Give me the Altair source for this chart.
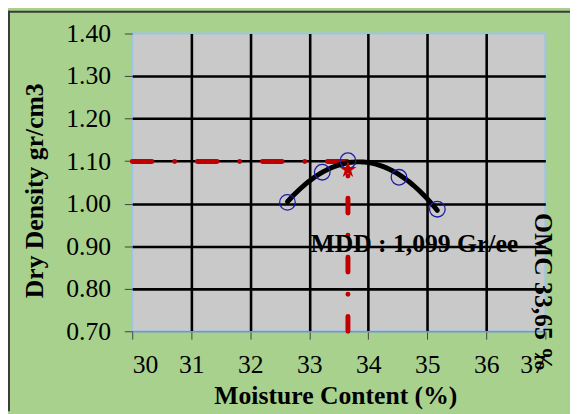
import altair as alt
import pandas as pd

# ---- data ----
moisture = [32.63, 33.22, 33.655, 34.52, 35.17]
density = [1.003, 1.074, 1.101, 1.062, 0.987]
omc = 33.655
mdd = 1.099
star_y = 1.08
x_ticks = [30, 31, 32, 33, 34, 35, 36, 37]
y_ticks = [0.70, 0.80, 0.90, 1.00, 1.10, 1.20, 1.30, 1.40]
mdd_label = "MDD : 1,099 Gr/ee"
omc_label = "OMC 33,65 %"
mdd_label_pos = (33.02, 0.886)
omc_label_pos = (36.817, 0.978)

FONT = "Liberation Serif"
RED = "#c00000"

pts = pd.DataFrame({"x": moisture, "y": density})

xs = alt.Scale(domain=[30, 37], nice=False, zero=False)
ys = alt.Scale(domain=[0.70, 1.40], nice=False, zero=False)

grid_x = {"condition": {"test": "datum.value <= 30 || datum.value >= 37", "value": "transparent"}, "value": "black"}
grid_y = {"condition": {"test": "datum.value <= 0.70001 || datum.value >= 1.39999", "value": "transparent"}, "value": "black"}

x_axis = alt.Axis(values=x_ticks, format="d", title="Moisture Content (%)",
                  grid=True, gridColor=grid_x, gridWidth=2.6,
                  tickSize=8, tickColor="#404040", labelPadding=13,
                  domain=True, domainColor="#8096b0", domainWidth=1.5,
                  titleX=206, titleY=73, titleBaseline="alphabetic", titleAlign="center")
y_axis = alt.Axis(values=y_ticks, format=".2f", title="Dry Density gr/cm3",
                  grid=True, gridColor=grid_y, gridWidth=2.6,
                  tickSize=8, tickColor="#404040", labelPadding=14,
                  domain=False,
                  titleX=-91, titleY=159, titleBaseline="alphabetic", titleAlign="center", titleAngle=-90)

base = alt.Chart(pts)

axes_layer = base.mark_point(opacity=0).encode(
    x=alt.X("x:Q", scale=xs, axis=x_axis),
    y=alt.Y("y:Q", scale=ys, axis=y_axis),
)

hline = alt.Chart(pd.DataFrame({"x": [30], "x2": [omc], "y": [mdd]})).mark_rule(
    color=RED, strokeWidth=5, strokeDash=[20, 23, 0.01, 23], strokeCap="round"
).encode(x=alt.X("x:Q", scale=xs), x2="x2:Q", y=alt.Y("y:Q", scale=ys))

vline = alt.Chart(pd.DataFrame({"x": [omc], "y": [0.70], "y2": [star_y]})).mark_rule(
    color=RED, strokeWidth=5, strokeDash=[15, 22.5, 0.01, 22.5], strokeCap="round"
).encode(x=alt.X("x:Q", scale=xs), y=alt.Y("y:Q", scale=ys), y2="y2:Q")

star_path = "M0,-1L0.2245,-0.309L0.951,-0.309L0.363,0.118L0.588,0.809L0,0.382L-0.588,0.809L-0.363,0.118L-0.951,-0.309L-0.2245,-0.309Z"
star = alt.Chart(pd.DataFrame({"x": [omc], "y": [star_y]})).mark_point(
    shape=star_path, filled=True, color=RED, size=330, opacity=1
).encode(x=alt.X("x:Q", scale=xs), y=alt.Y("y:Q", scale=ys))

curve = base.transform_regression("x", "y", method="poly", order=2).mark_line(
    color="black", strokeWidth=5, strokeCap="round"
).encode(x=alt.X("x:Q", scale=xs), y=alt.Y("y:Q", scale=ys))

circles = base.mark_point(shape="circle", filled=False, color="#1c1ca6", size=250,
                          strokeWidth=1.3, opacity=1).encode(
    x=alt.X("x:Q", scale=xs), y=alt.Y("y:Q", scale=ys))

mdd_text = alt.Chart(pd.DataFrame({"x": [mdd_label_pos[0]], "y": [mdd_label_pos[1]], "t": [mdd_label]})).mark_text(
    font=FONT, fontSize=26, fontWeight="bold", color="black", align="left", baseline="alphabetic"
).encode(x=alt.X("x:Q", scale=xs), y=alt.Y("y:Q", scale=ys), text="t:N")

omc_text = alt.Chart(pd.DataFrame({"x": [omc_label_pos[0]], "y": [omc_label_pos[1]], "t": [omc_label]})).mark_text(
    font=FONT, fontSize=26, fontWeight="bold", color="black", align="left", baseline="alphabetic", angle=90
).encode(x=alt.X("x:Q", scale=xs), y=alt.Y("y:Q", scale=ys), text="t:N")

border_df = pd.DataFrame({"a": [0]})
top_border = alt.Chart(border_df).mark_rule(color="#3a3a3a", strokeWidth=2).encode(
    x=alt.value(-126), x2=alt.value(444), y=alt.value(-22))
left_border = alt.Chart(border_df).mark_rule(color="#3a3a3a", strokeWidth=2).encode(
    x=alt.value(-125), y=alt.value(-23), y2=alt.value(383))

chart = alt.layer(
    axes_layer, hline, vline, curve, circles, star, mdd_text, omc_text, top_border, left_border
).properties(
    width=419, height=302,
    autosize=alt.AutoSizeParams(type="none"),
    padding={"left": 126, "top": 23, "right": 25, "bottom": 81},
    background="#a9d18e",
).configure_view(
    fill="#c9c9c9", stroke="#9dc3e6", strokeWidth=2
).configure_axis(
    labelFont=FONT, labelFontSize=26, labelColor="black",
    titleFont=FONT, titleFontSize=26, titleFontWeight="bold", titleColor="black",
)

chart.save("out.html", embed_options={"renderer": "svg", "actions": False})
